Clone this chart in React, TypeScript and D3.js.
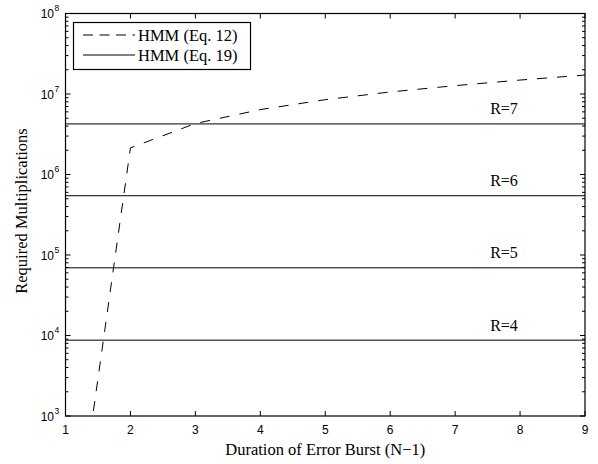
import React from "react";
import * as d3 from "d3";

const burstDurations = [1, 2, 3, 4, 5, 6, 7, 8, 9];
const eq12Values = [4, 2.14e6, 4.3e6, 6.4e6, 8.5e6, 1.06e7, 1.27e7, 1.49e7, 1.72e7];
const rValues = [4, 5, 6, 7];
const eq19Values = [8.75e3, 6.93e4, 5.45e5, 4.25e6];
const xTicks = [1, 2, 3, 4, 5, 6, 7, 8, 9];
const yExponents = [3, 4, 5, 6, 7, 8];
const legendLabels = ["HMM (Eq. 12)", "HMM (Eq. 19)"];

const W = 598;
const H = 464;
const L = 65.5;
const R = 585;
const T = 13.5;
const B = 416;

export default function App() {
  const x = d3.scaleLinear().domain([1, 9]).range([L, R]);
  const y = d3.scaleLog().domain([1e3, 1e8]).range([B, T]);

  const line = d3
    .line<number>()
    .x((_, i) => x(burstDurations[i]))
    .y((d) => y(d));

  const minor: number[] = [];
  for (let k = 3; k < 8; k++) {
    for (let m = 2; m <= 9; m++) minor.push(m * Math.pow(10, k));
  }

  const tickFont = "'Liberation Sans', Arial, sans-serif";
  const serif = "'Liberation Serif', 'Times New Roman', serif";
  const major = 5;
  const minorLen = 3;

  return (
    <svg
      width={W}
      height={H}
      style={{ position: "absolute", left: 0, top: 0, background: "#fff" }}
    >
      <defs>
        <clipPath id="plot">
          <rect x={L} y={T} width={R - L} height={B - T} />
        </clipPath>
      </defs>
      <rect x={0} y={0} width={W} height={H} fill="#fff" />

      {/* horizontal lines eq19 */}
      {eq19Values.map((v, i) => (
        <line
          key={"h" + i}
          x1={L}
          x2={R}
          y1={y(v)}
          y2={y(v)}
          stroke="#000"
          strokeWidth={1}
        />
      ))}
      {eq19Values.map((v, i) => (
        <text
          key={"rl" + i}
          x={504}
          y={y(v) - 9.5}
          textAnchor="middle"
          fontFamily={serif}
          fontSize={16}
          fill="#000"
        >
          {"R=" + rValues[i]}
        </text>
      ))}

      {/* dashed eq12 */}
      <path
        d={line(eq12Values) || ""}
        fill="none"
        stroke="#000"
        strokeWidth={1}
        strokeDasharray="10,10"
        clipPath="url(#plot)"
      />

      {/* ticks */}
      {xTicks.map((t) => (
        <g key={"xt" + t}>
          <line x1={x(t)} x2={x(t)} y1={B} y2={B - major} stroke="#000" />
          <line x1={x(t)} x2={x(t)} y1={T} y2={T + major} stroke="#000" />
          <text
            x={x(t)}
            y={434}
            textAnchor="middle"
            fontFamily={tickFont}
            fontSize={12}
            fill="#000"
          >
            {t}
          </text>
        </g>
      ))}
      {yExponents.map((e) => {
        const yy = y(Math.pow(10, e));
        return (
          <g key={"yt" + e}>
            <line x1={L} x2={L + major} y1={yy} y2={yy} stroke="#000" />
            <line x1={R} x2={R - major} y1={yy} y2={yy} stroke="#000" />
            <text
              x={54}
              y={yy + 4.5}
              textAnchor="end"
              fontFamily={tickFont}
              fontSize={12}
              fill="#000"
            >
              10
            </text>
            <text
              x={54.5}
              y={yy - 2.5}
              textAnchor="start"
              fontFamily={tickFont}
              fontSize={8.5}
              fill="#000"
            >
              {e}
            </text>
          </g>
        );
      })}
      {minor.map((v, i) => (
        <g key={"mt" + i}>
          <line x1={L} x2={L + minorLen} y1={y(v)} y2={y(v)} stroke="#000" />
          <line x1={R} x2={R - minorLen} y1={y(v)} y2={y(v)} stroke="#000" />
        </g>
      ))}

      {/* axes box */}
      <rect
        x={L}
        y={T}
        width={R - L}
        height={B - T}
        fill="none"
        stroke="#000"
        strokeWidth={1.2}
      />

      {/* legend */}
      <rect
        x={73.5}
        y={22.5}
        width={177}
        height={47}
        fill="#fff"
        stroke="#000"
        strokeWidth={1.2}
      />
      <line
        x1={83}
        x2={135}
        y1={35}
        y2={35}
        stroke="#000"
        strokeDasharray="10,6.5"
      />
      <line x1={83} x2={135} y1={55} y2={55} stroke="#000" />
      {legendLabels.map((lab, i) => (
        <text
          key={"lg" + i}
          x={138}
          y={40.5 + i * 20}
          fontFamily={serif}
          fontSize={16.5}
          fill="#000"
        >
          {lab}
        </text>
      ))}

      {/* axis labels */}
      <text
        x={(L + R) / 2}
        y={455}
        textAnchor="middle"
        fontFamily={serif}
        fontSize={16.5}
        fill="#000"
      >
        Duration of Error Burst (N−1)
      </text>
      <text
        transform={`translate(27, ${211}) rotate(-90)`}
        textAnchor="middle"
        fontFamily={serif}
        fontSize={16.5}
        fill="#000"
      >
        Required Multiplications
      </text>
    </svg>
  );
}
